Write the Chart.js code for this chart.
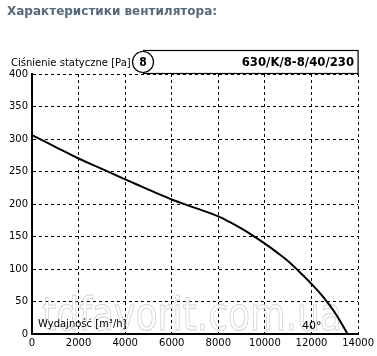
<!DOCTYPE html>
<html>
<head>
<meta charset="utf-8">
<script src="https://cdn.jsdelivr.net/npm/chart.js@4"></script>
<style>
  html, body { margin: 0; padding: 0; background: #fff; }
  canvas { display: block; }
</style>
</head>
<body>
<canvas id="fanChart" width="377" height="356"></canvas>
<script>
// Fan curve: airflow [m3/h] vs static pressure [Pa]
const airflow = [0, 1000, 2000, 3000, 4000, 4500, 5000, 6000, 7000, 8000, 8500, 9000, 9500, 10000, 10500, 11000, 11500, 12000, 12500, 13000, 13550];
const pressure = [306, 288, 270, 254, 238, 230, 222, 207, 194, 181, 172, 162, 151, 139, 126, 112, 95, 77, 57, 33, 0];
const xTicks = [0, 2000, 4000, 6000, 8000, 10000, 12000, 14000];
const yTicks = [0, 50, 100, 150, 200, 250, 300, 350, 400];

const pageTitle = 'Характеристики вентилятора:';
const yAxisTitle = 'Ciśnienie statyczne [Pa]';
const xAxisTitle = 'Wydajność [m³/h]';
const curveNumber = '8';
const modelName = '630/K/8-8/40/230';
const tempLabel = '40°';
const watermark = 'tdfavorit.com.ua';

// Extra texts and the header box around the plot
const decorPlugin = {
    id: 'decor',
    beforeDatasetsDraw(chart) {
        const ctx = chart.ctx;
        ctx.save();
        // outlined watermark, stretched to fit its span
        ctx.font = '46px "DejaVu Sans"';
        const w = ctx.measureText(watermark).width;
        ctx.translate(42, 330);
        ctx.scale(300 / w, 1);
        ctx.strokeStyle = '#d4d4d4';
        ctx.lineWidth = 1;
        ctx.strokeText(watermark, 0, 0);
        ctx.restore();
    },
    afterDraw(chart) {
        const ctx = chart.ctx;
        const area = chart.chartArea;
        ctx.save();

        ctx.fillStyle = '#56697b';
        ctx.font = 'bold 12px "DejaVu Sans"';
        ctx.textBaseline = 'alphabetic';
        ctx.fillText(pageTitle, 7, 15);

        ctx.fillStyle = '#000';
        ctx.font = '10px "DejaVu Sans"';
        ctx.fillText(yAxisTitle, 11, 66);

        // header box
        ctx.strokeStyle = '#000';
        ctx.lineWidth = 1.2;
        ctx.strokeRect(143.5, 50.5, area.right - 143.5, 23);
        ctx.beginPath();
        ctx.arc(143, 62, 10.5, 0, Math.PI * 2);
        ctx.fillStyle = '#fff';
        ctx.fill();
        ctx.stroke();

        ctx.fillStyle = '#000';
        ctx.font = 'bold 12px "DejaVu Sans Condensed"';
        ctx.textAlign = 'center';
        ctx.textBaseline = 'middle';
        ctx.fillText(curveNumber, 143, 63);
        ctx.textAlign = 'right';
        ctx.font = 'bold 13px "DejaVu Sans Condensed"';
        ctx.fillText(modelName, area.right - 4, 63);

        ctx.textAlign = 'left';
        ctx.textBaseline = 'alphabetic';
        ctx.font = '10px "DejaVu Sans"';
        ctx.fillText(xAxisTitle, 38, 327);
        ctx.font = '11px "DejaVu Sans"';
        ctx.fillText(tempLabel, 302, 329);
        ctx.restore();
    }
};

const ctx = document.getElementById('fanChart').getContext('2d');
new Chart(ctx, {
    type: 'line',
    data: {
        datasets: [{
            data: airflow.map((x, i) => ({ x: x, y: pressure[i] })),
            borderColor: '#000',
            borderWidth: 2,
            pointRadius: 0,
            tension: 0.4,
            fill: false
        }]
    },
    options: {
        responsive: false,
        animation: false,
        events: [],
        layout: { padding: { left: 0, right: 15, top: 74, bottom: 0 } },
        plugins: { legend: { display: false }, tooltip: { enabled: false } },
        scales: {
            x: {
                type: 'linear',
                min: 0,
                max: 14000,
                afterBuildTicks: scale => { scale.ticks = xTicks.map(v => ({ value: v })); },
                afterFit: scale => { scale.height = 22; },
                ticks: {
                    color: '#000',
                    font: { family: 'DejaVu Sans', size: 10 },
                    padding: 3,
                    maxRotation: 0,
                    autoSkip: false,
                    callback: v => String(v)
                },
                grid: { color: '#000', lineWidth: 1, drawTicks: false },
                border: { display: true, color: '#000', width: 2, dash: [3, 3] }
            },
            y: {
                type: 'linear',
                min: 0,
                max: 400,
                afterBuildTicks: scale => { scale.ticks = yTicks.map(v => ({ value: v })); },
                afterFit: scale => { scale.width = 32; },
                ticks: {
                    color: '#000',
                    font: { family: 'DejaVu Sans', size: 10 },
                    padding: 4,
                    autoSkip: false,
                    callback: v => String(v)
                },
                grid: { color: '#000', lineWidth: 1, drawTicks: false },
                border: { display: true, color: '#000', width: 2, dash: [3, 3] }
            }
        }
    },
    plugins: [decorPlugin]
});
</script>
</body>
</html>
